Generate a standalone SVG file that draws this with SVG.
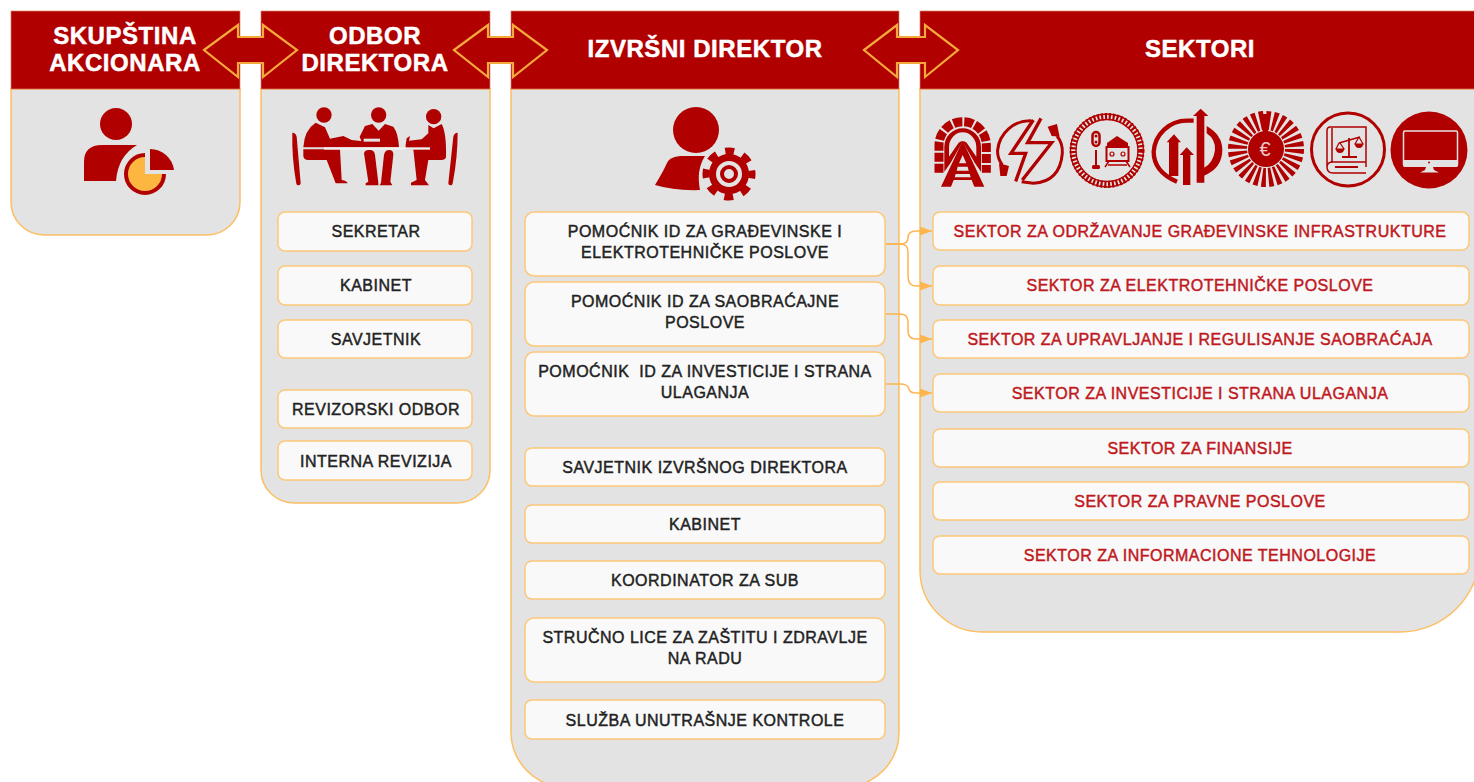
<svg xmlns="http://www.w3.org/2000/svg" width="1474" height="782" viewBox="0 0 1474 782">
<style>
.panel{fill:#e3e3e3;stroke:#fdbf63;stroke-width:1.500}
.head{fill:#b00000;stroke:#d9826a;stroke-width:.7}
.ht{font-family:"Liberation Sans",Arial,sans-serif;font-weight:700;font-size:24px;fill:#fff;stroke:#fff;stroke-width:.5;text-anchor:middle;letter-spacing:.55px}
.box{fill:#f9f9f9;stroke:#fdc878;stroke-width:1.500}
.bt{font-family:"Liberation Sans",Arial,sans-serif;font-size:16px;fill:#222;stroke:#222;stroke-width:.45;text-anchor:middle;letter-spacing:.5px}
.rt{fill:#c01820;stroke:#c01820}
.dbl{fill:#b00000;stroke:#f5a93b;stroke-width:2.200}
.cn{fill:none;stroke:#fdb54f;stroke-width:1.500;marker-end:url(#ah)}
.i{fill:#b00000}
.l{fill:none;stroke:#b00000}
.g{fill:#e3e3e3}
</style>
<defs>
<marker id="ah" markerUnits="userSpaceOnUse" markerWidth="13" markerHeight="10" refX="12" refY="5" orient="auto"><path d="M0 .5L12 5L0 9.500Z" fill="#fdb54f"/></marker>
</defs>

<g id="node-skupstina">
<path class="panel" d="M11 89V202A33 33 0 0 0 44 235H207A33 33 0 0 0 240 202V89Z"/>
<rect class="head" x="11" y="11" width="229" height="78"/>
<text class="ht" x="125" y="44">SKUPŠTINA</text>
<text class="ht" x="125" y="71">AKCIONARA</text>
<circle class="i" cx="116" cy="124" r="16"/>
<path class="i" d="M84 181V162Q84 145 102 145H137Q118 156 116 181Z"/>
<circle cx="145" cy="174" r="19" fill="#fdb740" stroke="#b00000" stroke-width="4"/>
<path class="g" d="M145 150H176V174H145Z"/>
<path class="i" d="M150 149A24 24 0 0 1 174 170H150Z"/>
</g>

<g id="node-odbor">
<path class="panel" d="M261 89V470A33 33 0 0 0 294 503H457A33 33 0 0 0 490 470V89Z"/>
<rect class="head" x="261" y="11" width="229" height="78"/>
<text class="ht" x="375" y="44">ODBOR</text>
<text class="ht" x="375" y="71">DIREKTORA</text>
<g transform="translate(285 100) scale(.3333)">
<circle class="i" cx="117" cy="45" r="23"/><circle class="i" cx="281" cy="45" r="23"/><circle class="i" cx="446" cy="50" r="23"/>
<path class="i" d="M22 98Q32 98 35 110L47 250Q47 256 40 256Q34 256 33 245Q20 170 22 98Z"/>
<path class="i" d="M518 98Q508 98 505 110L490 250Q490 256 497 256Q503 256 504 245Q518 170 518 98Z"/>
<path class="i" d="M92 68L120 82L135 116L175 108L200 120L232 124V142H55Q58 90 92 68Z"/>
<path class="i" d="M55 148V168Q56 180 70 180H125L152 250H188Q186 243 170 240L165 148Z"/>
<path class="i" d="M240 78L262 72L281 92L300 72L325 80Q340 100 342 142H230V125L224 110Z"/>
<path class="g" d="M236 116H285V125H236Z"/>
<path class="i" d="M237 160Q240 148 255 150Q268 150 270 165L280 248V256H242V250L250 245Z"/>
<path class="i" d="M288 248L297 165Q300 150 312 150Q326 150 325 165L316 245L322 256H284Z"/>
<path class="i" d="M430 75L446 85L470 72Q485 100 483 172Q480 180 470 180H430L420 240L432 256H378V248L395 240L385 148H362V135L365 115L375 108L372 122L410 118L430 100Z"/>
<rect x="117" y="142" width="318" height="7" fill="#f0f0f0"/>
</g>
<rect class="box" x="278" y="212" width="194" height="39" rx="7"/><text class="bt" x="376" y="237">SEKRETAR</text>
<rect class="box" x="278" y="266" width="194" height="39" rx="7"/><text class="bt" x="376" y="291">KABINET</text>
<rect class="box" x="278" y="320" width="194" height="38" rx="7"/><text class="bt" x="376" y="345">SAVJETNIK</text>
<rect class="box" x="278" y="390" width="194" height="38" rx="7"/><text class="bt" x="376" y="415">REVIZORSKI ODBOR</text>
<rect class="box" x="278" y="441" width="194" height="39" rx="7"/><text class="bt" x="376" y="467">INTERNA REVIZIJA</text>
</g>

<g id="node-direktor">
<path class="panel" d="M511 89V732A55 55 0 0 0 566 787H844A55 55 0 0 0 899 732V89Z"/>
<rect class="head" x="511" y="11" width="388" height="78"/>
<text class="ht" x="705" y="57">IZVRŠNI DIREKTOR</text>
<circle class="i" cx="696" cy="130" r="23"/>
<path class="i" d="M655 185Q664 170 666 165Q668 157 680 156H705Q696 170 700 190Q675 191 655 185Z"/>
<circle cx="729" cy="174" r="16.500" class="l" stroke-width="7"/>
<circle cx="729" cy="174" r="23" class="l" stroke-width="7" stroke-dasharray="9.030 9.030" stroke-dashoffset="4.500"/>
<circle cx="729" cy="174" r="7" class="l" stroke-width="4"/>
<rect class="box" x="525" y="212" width="360" height="64" rx="9"/><text class="bt" x="705" y="237">POMOĆNIK ID ZA GRAĐEVINSKE I</text><text class="bt" x="705" y="258">ELEKTROTEHNIČKE POSLOVE</text>
<rect class="box" x="525" y="282" width="360" height="64" rx="9"/><text class="bt" x="705" y="307">POMOĆNIK ID ZA SAOBRAĆAJNE</text><text class="bt" x="705" y="328">POSLOVE</text>
<rect class="box" x="525" y="352" width="360" height="64" rx="9"/><text class="bt" x="705" y="377" xml:space="preserve">POMOĆNIK  ID ZA INVESTICIJE I STRANA</text><text class="bt" x="705" y="398">ULAGANJA</text>
<rect class="box" x="525" y="448" width="360" height="38" rx="7"/><text class="bt" x="705" y="473">SAVJETNIK IZVRŠNOG DIREKTORA</text>
<rect class="box" x="525" y="505" width="360" height="38" rx="7"/><text class="bt" x="705" y="530">KABINET</text>
<rect class="box" x="525" y="561" width="360" height="38" rx="7"/><text class="bt" x="705" y="586">KOORDINATOR ZA SUB</text>
<rect class="box" x="525" y="618" width="360" height="64" rx="9"/><text class="bt" x="705" y="643">STRUČNO LICE ZA ZAŠTITU I ZDRAVLJE</text><text class="bt" x="705" y="664">NA RADU</text>
<rect class="box" x="525" y="700" width="360" height="39" rx="7"/><text class="bt" x="705" y="726">SLUŽBA UNUTRAŠNJE KONTROLE</text>
</g>

<g id="node-sektori">
<path class="panel" d="M920 89V570A62 62 0 0 0 982 632H1400A80 80 0 0 0 1480 552V89Z"/>
<rect class="head" x="920" y="11" width="560" height="78"/>
<text class="ht" x="1200" y="57">SEKTORI</text>
<g id="icon-tunnel" transform="translate(925 100) scale(.3333)">
<path class="l" stroke-width="27" stroke-dasharray="27 6" d="M42 218V135A71 70 0 0 1 184 135V218"/>
<path class="i" d="M58 215V140A55 55 0 0 1 168 140V215L150 190L113 125L76 190Z"/>
<path class="g" d="M72 170V142A41 45 0 0 1 154 142V170L125 128Q113 120 101 128Z"/>
<path class="i" d="M113 122L178 260H148L140 240H86L78 260H48Z"/>
<path class="g" d="M113 165L124 190H102ZM98 200H128L131 212H95ZM92 222H134L137 232H89Z"/>
</g>
<g id="icon-elektro" transform="translate(925 100) scale(.3333)">
<path class="l" stroke-width="9" d="M318 62A98 98 0 0 0 218 150Q216 172 232 195"/>
<path class="l" stroke-width="9" d="M290 245L325 250Q405 245 412 160Q414 130 396 108"/>
<path class="l" stroke-width="10" d="M325 60L258 160H302L272 244"/>
<path class="l" stroke-width="10" d="M348 55L308 128H380L292 240"/>
<path class="i" d="M222 190L252 198L245 228L226 228Z"/>
<path class="i" d="M368 80L396 72L404 110L380 108Z"/>
</g>
<g id="icon-saobracaj">
<circle class="l" cx="1107" cy="150.500" r="34" stroke-width="7" stroke-dasharray="2.200 1.650"/>
<circle class="l" cx="1107" cy="150.500" r="36.500" stroke-width="1.300"/>
<circle class="l" cx="1107" cy="150.500" r="31" stroke-width="1.300"/>
<path class="l" stroke-width="2" d="M1096 150V166"/>
<rect class="l" x="1092.500" y="132" width="7" height="14" rx="3.500" stroke-width="2.500"/>
<circle class="i" cx="1096" cy="136" r="1.500"/><circle class="i" cx="1096" cy="142" r="1.500"/>
<rect class="i" x="1092" y="165" width="8" height="4" rx="1.500"/>
<path class="i" d="M1107 143L1117 136L1128 143V147H1107Z"/>
<rect class="l" x="1106.500" y="147" width="22" height="14" stroke-width="2"/>
<path class="l" stroke-width="1.500" d="M1108 165H1127M1109 161L1105 167M1126 161L1130 167"/>
<circle class="l" cx="1112" cy="154" r="2" stroke-width="1.200"/><circle class="l" cx="1123" cy="154" r="2" stroke-width="1.200"/>
</g>
<g id="icon-investicije" transform="translate(1145 100) scale(.3333)">
<path class="l" stroke-width="13" d="M146 62H126A100 100 0 0 0 26 155Q26 215 96 245"/>
<path class="i" d="M185 78Q232 105 232 150Q232 205 175 228V205Q205 190 210 150Q212 118 185 100Z"/>
<path class="i" d="M167 26L190 48H178V248H155V48H144Z"/>
<path class="i" d="M87 103L108 127H100V228H72V127H65Z"/>
<path class="i" d="M125 142L147 165H136V255H114V165H104Z"/>
</g>
<g id="icon-finansije">
<circle class="l" cx="1266" cy="149" r="28.500" stroke-width="19" stroke-dasharray="3.800 2.600"/>
<rect class="i" x="1263" y="114" width="5" height="18"/>
<circle class="i" cx="1266" cy="149" r="18"/>
<text x="1265" y="156" font-family="Liberation Sans, Arial, sans-serif" font-size="20" fill="#ecc8c8" text-anchor="middle">€</text>
</g>
<g id="icon-pravne">
<circle class="l" cx="1348" cy="149.500" r="36.500" stroke-width="3"/>
<path class="l" stroke-width="1.500" d="M1366 167V127H1330Q1327 127 1327 131V167Q1327 173 1333 173H1366M1327 167Q1327 162 1333 162H1366M1332 128V162"/>
<path class="l" stroke-width="1.800" d="M1335 167H1358M1349 138V157M1339 143L1360 137M1342 157H1357"/>
<path class="l" stroke-width="1.200" d="M1339 143L1336 149H1344L1340 143M1359 137L1355 144H1363L1359 137"/>
<path class="i" d="M1336 149H1344A4 4 0 0 1 1336 149ZM1355 144H1363A4 4 0 0 1 1355 144Z"/>
</g>
<g id="icon-it">
<circle class="i" cx="1429" cy="150" r="38.500"/>
<rect x="1403.500" y="131" width="54" height="35" rx="1.500" fill="#b00000" stroke="#e3e3e3" stroke-width="1.500"/>
<path class="g" d="M1403 160H1458V165Q1458 167 1456 167H1405Q1403 167 1403 165ZM1426 167H1433L1434 170L1439 172.500H1420L1425 170Z"/>
<circle class="i" cx="1429" cy="162.500" r="1"/>
</g>
<rect class="box" x="933" y="212" width="536" height="38" rx="7"/><text class="bt rt" x="1200" y="237">SEKTOR ZA ODRŽAVANJE GRAĐEVINSKE INFRASTRUKTURE</text>
<rect class="box" x="933" y="266" width="536" height="39" rx="7"/><text class="bt rt" x="1200" y="291">SEKTOR ZA ELEKTROTEHNIČKE POSLOVE</text>
<rect class="box" x="933" y="320" width="536" height="38" rx="7"/><text class="bt rt" x="1200" y="345">SEKTOR ZA UPRAVLJANJE I REGULISANJE SAOBRAĆAJA</text>
<rect class="box" x="933" y="374" width="536" height="38" rx="7"/><text class="bt rt" x="1200" y="399">SEKTOR ZA INVESTICIJE I STRANA ULAGANJA</text>
<rect class="box" x="933" y="429" width="536" height="38" rx="7"/><text class="bt rt" x="1200" y="454">SEKTOR ZA FINANSIJE</text>
<rect class="box" x="933" y="482" width="536" height="38" rx="7"/><text class="bt rt" x="1200" y="507">SEKTOR ZA PRAVNE POSLOVE</text>
<rect class="box" x="933" y="536" width="536" height="38" rx="7"/><text class="bt rt" x="1200" y="561">SEKTOR ZA INFORMACIONE TEHNOLOGIJE</text>
</g>

<g id="connectors">
<path class="dbl" d="M204 50L238 25V37H263V25L297 50L263 77V63H238V77Z"/>
<path class="dbl" d="M454 50L488 25V37H513V25L547 50L513 77V63H488V77Z"/>
<path class="dbl" d="M864 50L897 25V37H925V25L958 50L925 77V63H897V77Z"/>
<path class="cn" d="M886 244H900Q908 244 908 238Q908 231 916 231H932"/>
<path class="cn" d="M886 244H900Q908 244 908 252V276Q908 286 916 286H932"/>
<path class="cn" d="M886 314H900Q908 314 908 322V331Q908 339 916 339H932"/>
<path class="cn" d="M886 384H900Q908 384 909 389Q910 393 916 393H932"/>
</g>
</svg>
